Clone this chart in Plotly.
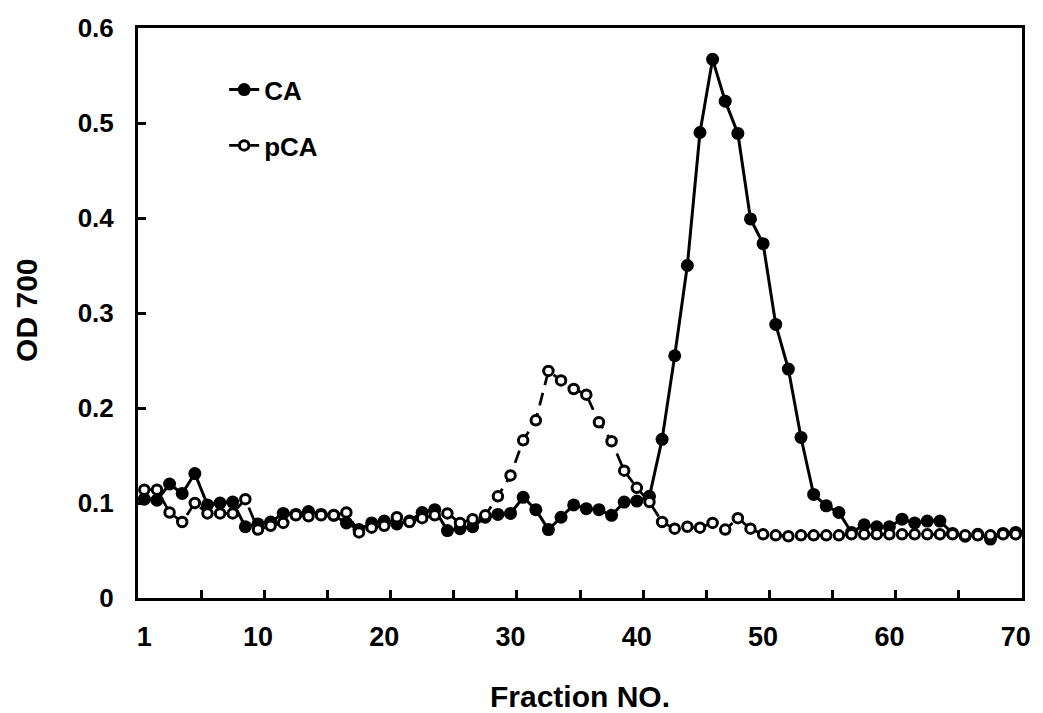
import plotly.graph_objects as go

fractions = list(range(1, 71))

ca = [0.104, 0.103, 0.120, 0.110, 0.131, 0.098, 0.100, 0.101, 0.075, 0.078,
      0.080, 0.089, 0.088, 0.091, 0.088, 0.087, 0.079, 0.072, 0.079, 0.081,
      0.078, 0.081, 0.090, 0.093, 0.071, 0.073, 0.075, 0.085, 0.088, 0.089,
      0.106, 0.093, 0.072, 0.085, 0.098, 0.094, 0.093, 0.087, 0.101, 0.102,
      0.107, 0.167, 0.255, 0.350, 0.490, 0.567, 0.523, 0.489, 0.399, 0.373,
      0.288, 0.241, 0.169, 0.109, 0.097, 0.090, 0.069, 0.077, 0.075, 0.075,
      0.083, 0.079, 0.081, 0.081, 0.068, 0.065, 0.067, 0.062, 0.068, 0.069]

pca = [0.114, 0.114, 0.090, 0.080, 0.100, 0.089, 0.089, 0.089, 0.104, 0.072,
       0.076, 0.079, 0.087, 0.086, 0.087, 0.087, 0.090, 0.069, 0.074, 0.076,
       0.085, 0.080, 0.084, 0.087, 0.089, 0.079, 0.083, 0.087, 0.107, 0.129,
       0.166, 0.187, 0.239, 0.229, 0.220, 0.214, 0.185, 0.165, 0.134, 0.116,
       0.101, 0.080, 0.073, 0.075, 0.074, 0.079, 0.072, 0.084, 0.073, 0.067,
       0.066, 0.065, 0.066, 0.066, 0.066, 0.066, 0.067, 0.067, 0.067, 0.067,
       0.067, 0.067, 0.067, 0.067, 0.067, 0.066, 0.066, 0.066, 0.067, 0.067]

x_tick_vals = [1, 10, 20, 30, 40, 50, 60, 70]
x_tick_text = ["1", "10", "20", "30", "40", "50", "60", "70"]
x_minor_ticks = [5.5, 10.5, 15.5, 20.5, 25.5, 30.5, 35.5, 40.5, 45.5, 50.5, 55.5, 60.5, 65.5]
y_tick_vals = [0, 0.1, 0.2, 0.3, 0.4, 0.5, 0.6]
y_tick_text = ["0", "0.1", "0.2", "0.3", "0.4", "0.5", "0.6"]

FONT = "Liberation Sans, Arial, sans-serif"

fig = go.Figure()
fig.add_trace(go.Scatter(
    x=fractions, y=ca, name="CA", mode="lines+markers", legendgroup="a",
    line=dict(color="black", width=3),
    marker=dict(symbol="circle", size=13, color="black", line=dict(width=0)),
))
fig.add_trace(go.Scatter(
    x=fractions, y=pca, name="pCA", mode="lines+markers", legendgroup="b",
    line=dict(color="black", width=2.75, dash="13px,8px"),
    marker=dict(symbol="circle", size=9.5, color="white", line=dict(color="black", width=3)),
))

fig.update_layout(
    width=1043, height=713,
    margin=dict(l=138, r=14, t=28, b=115),
    paper_bgcolor="white", plot_bgcolor="white",
    font=dict(family=FONT, color="black"),
    showlegend=True,
    legend=dict(
        x=0.0975, y=0.933, xanchor="left", yanchor="top",
        font=dict(family=FONT, size=26, color="black", weight="bold"),
        bgcolor="rgba(0,0,0,0)", traceorder="grouped", tracegroupgap=19,
    ),
    xaxis=dict(
        range=[0.5, 70.5], showline=True, linewidth=3, linecolor="black", mirror=True,
        showgrid=False, zeroline=False,
        tickmode="array", tickvals=x_tick_vals, ticktext=x_tick_text, ticks="",
        tickfont=dict(family=FONT, size=27, color="black", weight="bold"),
        ticklabelstandoff=13,
        minor=dict(tickmode="array", tickvals=x_minor_ticks, ticks="inside",
                   ticklen=8, tickwidth=2.5, tickcolor="black", showgrid=False),
    ),
    yaxis=dict(
        range=[0, 0.6], showline=True, linewidth=3, linecolor="black", mirror=True,
        showgrid=False, zeroline=False,
        tickmode="array", tickvals=y_tick_vals, ticktext=y_tick_text,
        ticks="inside", ticklen=8, tickwidth=2.5, tickcolor="black",
        tickfont=dict(family=FONT, size=26, color="black", weight="bold"),
        ticklabelstandoff=16,
    ),
    annotations=[
        dict(text="OD 700", textangle=-90, xref="paper", yref="paper",
             x=-0.127, y=0.505, xanchor="center", yanchor="middle", showarrow=False,
             font=dict(family=FONT, size=30, color="black", weight="bold")),
        dict(text="Fraction NO.", xref="paper", yref="paper",
             x=0.5, y=-0.172, xanchor="center", yanchor="middle", showarrow=False,
             font=dict(family=FONT, size=30, color="black", weight="bold")),
    ],
)

fig.write_html("out.html")
